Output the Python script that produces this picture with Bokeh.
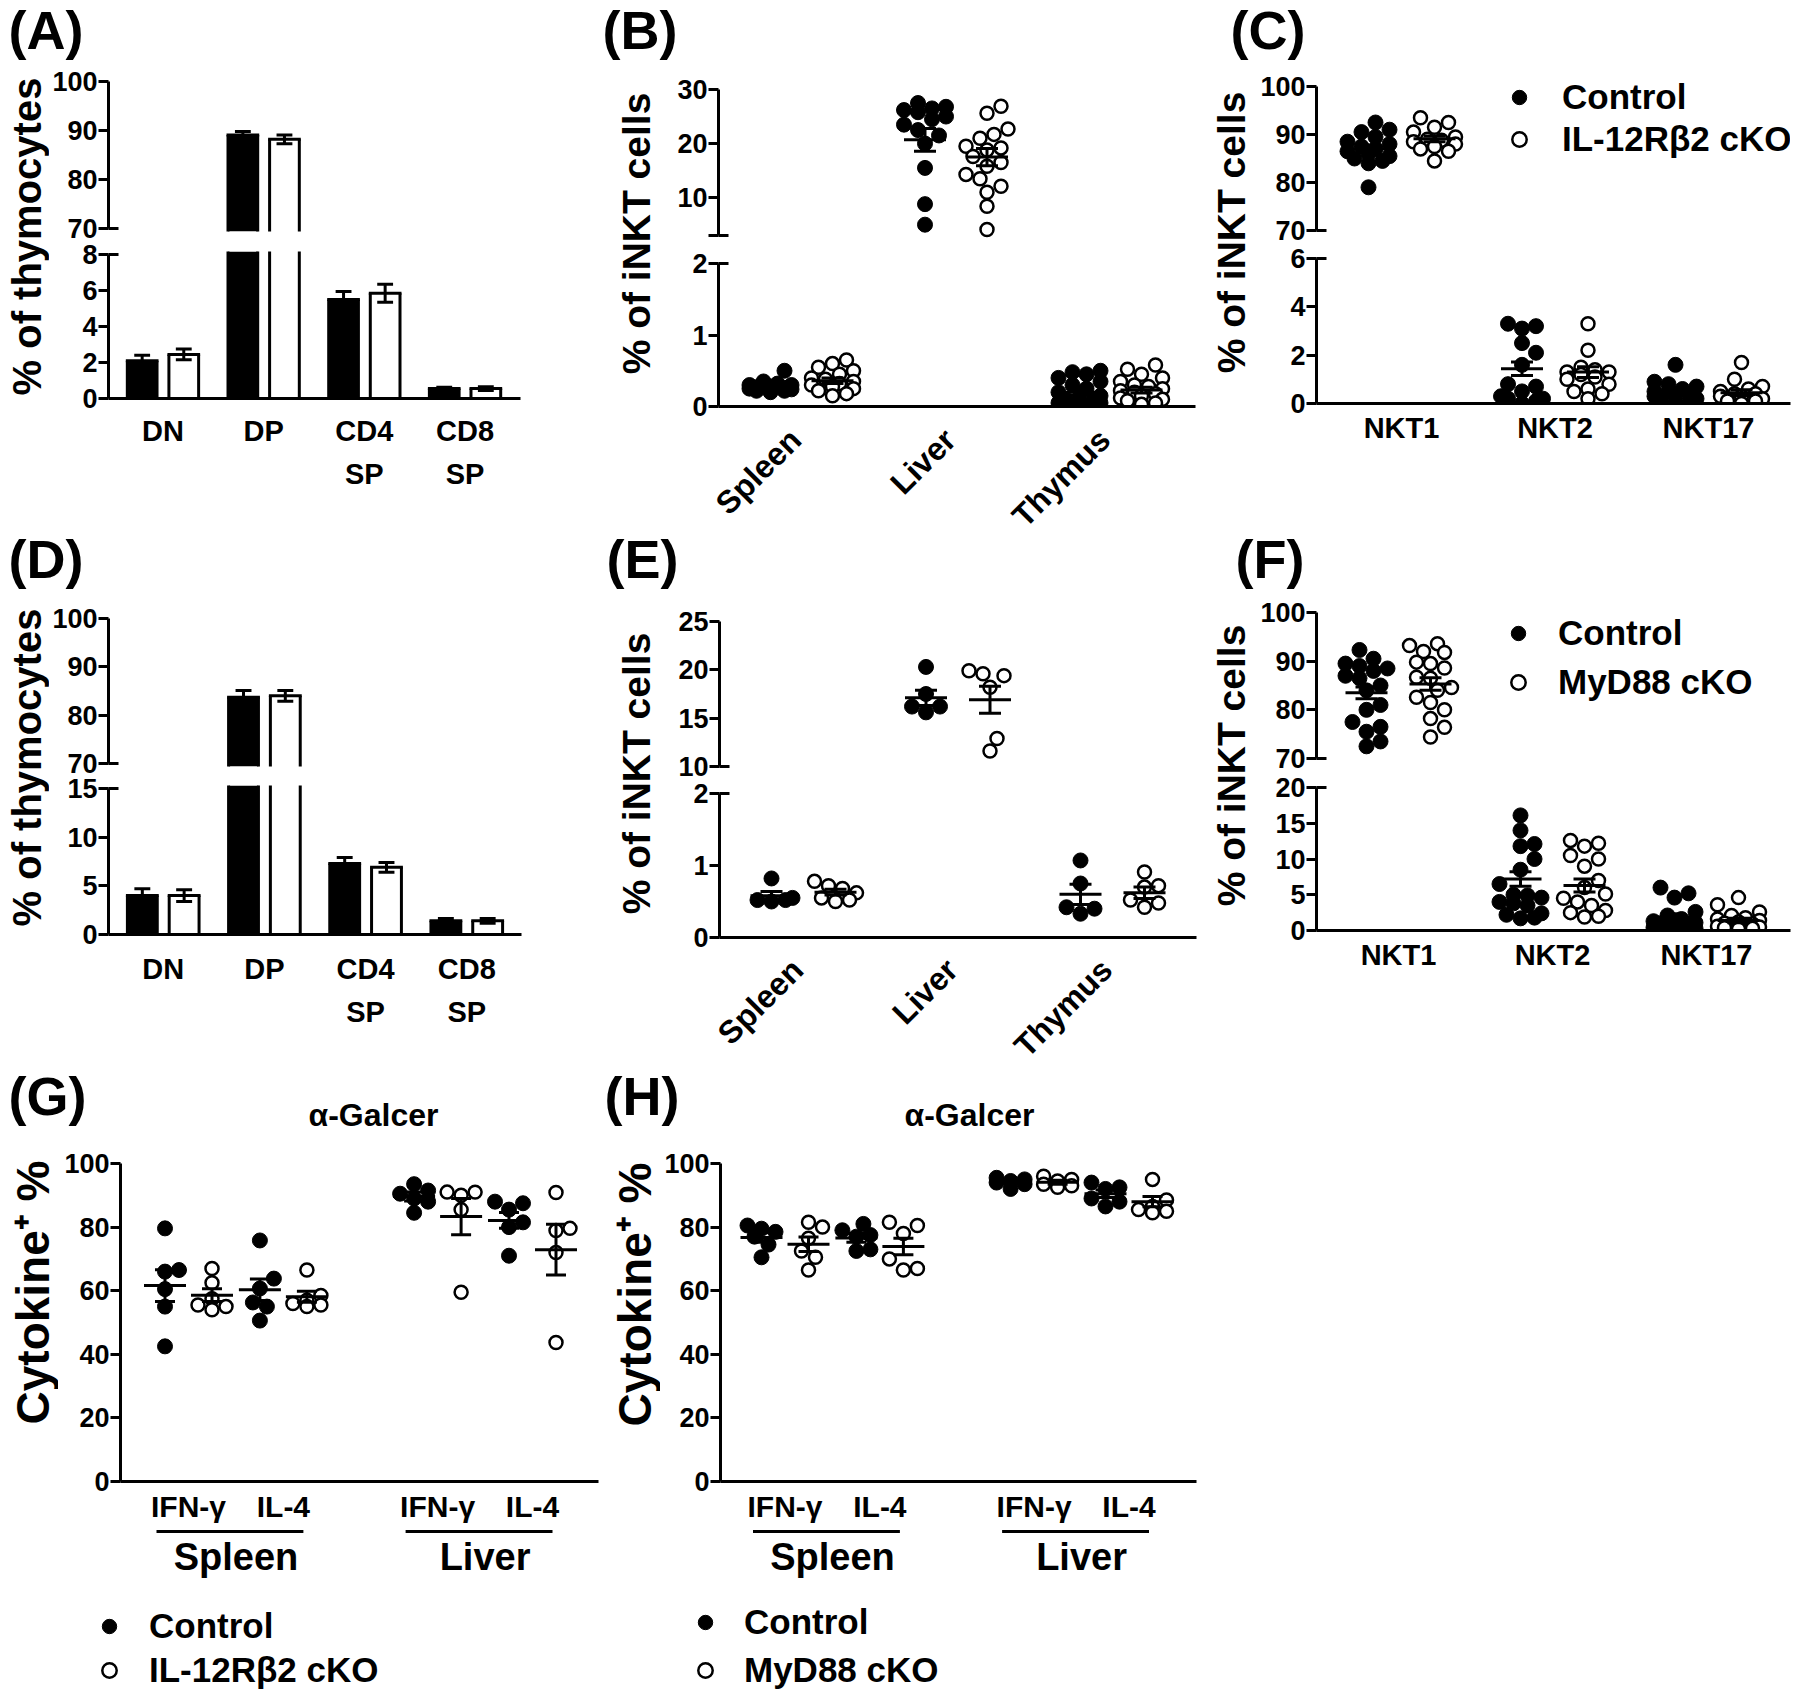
import math
from bokeh.plotting import figure
from bokeh.models import (Range1d, LinearAxis, FixedTicker, Label, Legend,
                          LegendItem)
from bokeh.layouts import row, column
from bokeh.embed import file_html
from bokeh.resources import INLINE

FONT = "Liberation Sans"

# ======================= data =======================
thymus_subsets = ["DN", "DP", "CD4\nSP", "CD8\nSP"]
A_ctrl_mean = [2.1, 89.1, 5.5, 0.55]
A_ctrl_sem = [0.3, 0.7, 0.45, 0.08]
A_ko_mean = [2.45, 88.2, 5.85, 0.55]
A_ko_sem = [0.3, 0.9, 0.5, 0.1]

D_ctrl_mean = [4.0, 83.7, 7.3, 1.4]
D_ctrl_sem = [0.7, 1.4, 0.6, 0.25]
D_ko_mean = [4.0, 84.0, 6.9, 1.4]
D_ko_sem = [0.6, 1.1, 0.5, 0.25]

organs = ["Spleen", "Liver", "Thymus"]
B_ctrl_spleen = [0.50, 0.35, 0.32, 0.30, 0.30, 0.28, 0.27, 0.26, 0.25, 0.25, 0.24, 0.22, 0.22, 0.20]
B_ko_spleen = [0.65, 0.60, 0.55, 0.50, 0.45, 0.40, 0.38, 0.35, 0.32, 0.30, 0.28, 0.25, 0.22, 0.18, 0.15]
B_ctrl_liver = [27.5, 26.8, 26.5, 26.2, 25.8, 25.0, 24.5, 23.5, 22.5, 21.5, 20.0, 15.5, 8.8, 5.0]
B_ko_liver = [26.9, 25.6, 22.7, 21.7, 21.0, 19.5, 19.2, 18.8, 17.6, 16.5, 15.8, 14.3, 13.5, 12.1, 11.0, 8.4, 4.1]
B_ctrl_thymus = [0.50, 0.48, 0.45, 0.40, 0.35, 0.30, 0.25, 0.20, 0.15, 0.12, 0.10, 0.08, 0.06, 0.05, 0.05, 0.04, 0.03, 0.02]
B_ko_thymus = [0.58, 0.52, 0.45, 0.40, 0.35, 0.30, 0.28, 0.25, 0.22, 0.20, 0.18, 0.15, 0.12, 0.10, 0.08, 0.05, 0.03]
B_ctrl_mean = [0.28, 20.7, 0.20]
B_ctrl_sem = [0.02, 2.1, 0.04]
B_ko_mean = [0.36, 17.5, 0.23]
B_ko_sem = [0.04, 1.6, 0.04]

subsets = ["NKT1", "NKT2", "NKT17"]
C_ctrl_nkt1 = [92.5, 91.0, 90.5, 89.5, 88.5, 88.0, 87.5, 87.0, 86.5, 86.0, 85.5, 85.0, 84.5, 84.0, 79.0]
C_ko_nkt1 = [93.5, 92.5, 91.5, 90.5, 89.5, 89.0, 88.8, 88.5, 88.0, 87.5, 87.0, 86.5, 84.5]
C_ctrl_nkt2 = [3.3, 3.2, 3.1, 2.5, 2.1, 1.6, 0.8, 0.7, 0.5, 0.3, 0.2, 0.2, 0.1, 0.0]
C_ko_nkt2 = [3.3, 2.2, 1.5, 1.4, 1.3, 1.3, 1.2, 1.1, 1.0, 0.8, 0.6, 0.5, 0.4, 0.2]
C_ctrl_nkt17 = [1.6, 0.9, 0.8, 0.7, 0.6, 0.5, 0.5, 0.4, 0.3, 0.3, 0.2, 0.1, 0.1, 0.0]
C_ko_nkt17 = [1.7, 1.0, 0.7, 0.6, 0.5, 0.4, 0.4, 0.3, 0.3, 0.2, 0.1, 0.1, 0.0]
C_ctrl_mean = [87.0, 1.44, 0.50]
C_ctrl_sem = [0.8, 0.28, 0.12]
C_ko_mean = [89.1, 1.30, 0.45]
C_ko_sem = [0.6, 0.22, 0.12]

E_ctrl_spleen = [0.82, 0.55, 0.52, 0.52, 0.50]
E_ko_spleen = [0.78, 0.72, 0.68, 0.62, 0.55, 0.52, 0.50]
E_ctrl_liver = [20.3, 17.5, 16.2, 16.2, 15.6]
E_ko_liver = [19.9, 19.6, 19.4, 18.2, 12.9, 11.6]
E_ctrl_thymus = [1.07, 0.75, 0.42, 0.40, 0.33]
E_ko_thymus = [0.91, 0.72, 0.70, 0.52, 0.48, 0.42]
E_ctrl_mean = [0.58, 17.1, 0.60]
E_ctrl_sem = [0.06, 0.8, 0.14]
E_ko_mean = [0.63, 16.9, 0.62]
E_ko_sem = [0.04, 1.4, 0.08]

F_ctrl_nkt1 = [92.3, 90.5, 89.5, 89.0, 88.5, 88.0, 87.0, 86.5, 85.0, 84.0, 81.0, 80.0, 77.5, 76.5, 75.5, 73.5, 72.5]
F_ko_nkt1 = [93.6, 93.2, 92.0, 91.8, 89.8, 89.5, 88.6, 86.7, 86.5, 84.6, 84.0, 82.6, 81.5, 80.0, 78.2, 76.4, 74.4]
F_ctrl_nkt2 = [16.1, 14.0, 12.1, 11.8, 10.0, 8.5, 6.5, 5.0, 4.9, 4.6, 4.0, 3.8, 3.5, 2.4, 2.2, 1.8, 1.7]
F_ko_nkt2 = [12.6, 12.2, 11.8, 10.5, 10.0, 9.0, 7.0, 6.0, 5.1, 4.5, 4.0, 3.5, 2.8, 2.5, 2.0, 1.9]
F_ctrl_nkt17 = [6.0, 5.2, 4.6, 2.6, 2.1, 1.6, 1.3, 1.1, 0.9, 0.8, 0.6, 0.5, 0.4, 0.3, 0.3, 0.2, 0.1]
F_ko_nkt17 = [4.6, 3.6, 2.6, 2.1, 1.8, 1.6, 1.4, 1.2, 1.0, 0.9, 0.8, 0.6, 0.5, 0.4, 0.3, 0.2]
F_ctrl_mean = [83.5, 7.2, 1.9]
F_ctrl_sem = [1.2, 1.0, 0.45]
F_ko_mean = [85.3, 6.3, 1.4]
F_ko_sem = [1.3, 0.9, 0.3]

cytokines = ["IFN-γ", "IL-4", "IFN-γ", "IL-4"]
tissues = ["Spleen", "Liver"]
G_ctrl = [[79.6, 66.5, 66.0, 60.5, 55.0, 42.5],
          [75.8, 63.8, 60.7, 56.3, 55.0, 50.6],
          [93.5, 91.5, 90.5, 89.0, 88.0, 84.5],
          [88.0, 87.5, 85.5, 81.5, 80.0, 71.0]]
G_ko = [[67.0, 62.5, 57.5, 55.5, 55.0, 54.0],
        [66.5, 58.5, 57.0, 56.0, 55.5, 55.0],
        [91.0, 91.0, 90.0, 85.5, 59.5],
        [90.9, 79.6, 78.9, 72.0, 43.7]]
G_ctrl_mean = [61.6, 60.3, 89.6, 82.1]
G_ctrl_sem = [5.0, 3.4, 1.4, 2.5]
G_ko_mean = [58.6, 58.1, 83.3, 72.9]
G_ko_sem = [2.0, 1.7, 5.7, 8.0]

H_ctrl = [[80.5, 79.5, 78.5, 77.0, 74.5, 70.5],
          [81.0, 79.0, 77.5, 77.0, 73.0, 72.5],
          [95.5, 95.0, 94.5, 94.0, 93.5, 92.0],
          [94.0, 92.5, 92.0, 89.0, 88.0, 86.5]]
H_ko = [[81.5, 80.0, 76.5, 72.5, 70.5, 66.5],
        [81.5, 80.5, 78.0, 70.0, 67.0, 66.5],
        [96.0, 95.0, 94.5, 93.5, 93.0, 92.5],
        [95.0, 88.5, 86.5, 85.5, 85.0, 84.5]]
H_ctrl_mean = [76.7, 76.6, 94.1, 90.5]
H_ctrl_sem = [1.5, 1.4, 0.5, 1.2]
H_ko_mean = [74.6, 73.9, 94.1, 88.0]
H_ko_sem = [2.3, 2.6, 0.6, 1.6]

# ============================ helpers ============================
PAD = 3
DIAM = 14.0
YTITLE = 39
TICK = 27


def rng_from(a, b, v1, p1, v2, p2):
    inv = (v2 - v1) / (p2 - p1)
    return Range1d(v1 + (a - p1) * inv, v1 + (b - p1) * inv)


def canvas(x0, x1, y0, y1, fl, fr, ft, fb, xr, yr):
    p = figure(width=int(x1 - x0), height=int(y1 - y0), x_range=xr, y_range=yr,
               x_axis_type=None, y_axis_type=None, output_backend="svg",
               toolbar_location=None,
               min_border_left=int(fl - x0), min_border_right=int(x1 - fr),
               min_border_top=int(ft - y0), min_border_bottom=int(y1 - fb))
    p.outline_line_color = None
    p.border_fill_color = "white"
    p.background_fill_color = "white"
    return p


def blank(x0, x1, y0, y1, xr=None, yr=None):
    xr = xr if xr is not None else Range1d(0, 1)
    yr = yr if yr is not None else Range1d(0, 1)
    return canvas(x0, x1, y0, y1, x0, x1, y0, y1, xr, yr)


def txt(p, x, y, text, size, align="left", angle=0.0, units="screen"):
    p.add_layout(Label(x=x, y=y, x_units=units, y_units=units, text=text,
                       text_font=FONT, text_font_style="bold",
                       text_font_size=f"{size}px", text_align=align,
                       text_baseline="middle", angle=angle, text_color="black"))


def style(ax, size):
    ax.axis_line_width = 3
    ax.axis_line_color = "black"
    ax.major_tick_line_width = 3
    ax.major_tick_line_color = "black"
    ax.minor_tick_line_color = None
    ax.major_label_text_font = FONT
    ax.major_label_text_font_style = "bold"
    ax.major_label_text_font_size = f"{size}px"
    ax.major_label_text_color = "black"


def yaxis(p, ticks, bounds, hide=()):
    ax = LinearAxis(ticker=FixedTicker(ticks=list(ticks)), bounds=bounds)
    style(ax, TICK)
    ax.major_label_overrides = {t: "" for t in hide}
    ax.major_tick_out = 10
    ax.major_tick_in = 0
    ax.major_label_standoff = 1
    p.add_layout(ax, "left")


def xaxis(p, labels, size, standoff, ticks=None, show=True):
    if ticks is None:
        ticks = list(range(len(labels)))
    ax = LinearAxis(ticker=FixedTicker(ticks=list(ticks)))
    style(ax, size if show else 0)
    ax.major_label_overrides = dict(zip(ticks, labels))
    ax.major_tick_line_color = None
    ax.major_tick_out = 0
    ax.major_tick_in = 0
    ax.major_label_standoff = standoff
    ax.major_label_text_line_height = 1.35
    if not show:
        ax.major_label_text_alpha = 0.0
    p.add_layout(ax, "below")


def swarm(ypx, maxw):
    n = len(ypx)
    order = sorted(range(n), key=lambda i: -ypx[i])
    step = DIAM / 2.0
    cands = [0.0]
    k = 1
    while k * step <= maxw + 1e-9:
        cands += [k * step, -k * step]
        k += 1
    placed, out = [], [0.0] * n
    for i in order:
        y = ypx[i]
        best, bpen = 0.0, None
        for c in cands:
            pen = 0.0
            for (qx, qy) in placed:
                d = math.hypot(c - qx, y - qy)
                if d < DIAM:
                    pen += DIAM - d
            if pen == 0.0:
                best = c
                break
            if bpen is None or pen < bpen:
                best, bpen = c, pen
        placed.append((best, y))
        out[i] = best
    return out


def errbars(p, xs, means, sems, mhw, chw, meanline):
    hi = [m + s for m, s in zip(means, sems)]
    lo = [m - s for m, s in zip(means, sems)]
    kw = dict(line_color="black", line_width=3)
    if meanline:
        p.segment([x - mhw for x in xs], means, [x + mhw for x in xs], means, **kw)
    p.segment(xs, lo, xs, hi, **kw)
    p.segment([x - chw for x in xs], hi, [x + chw for x in xs], hi, **kw)
    p.segment([x - chw for x in xs], lo, [x + chw for x in xs], lo, **kw)


def broken(x0, x1, fl, fr, y0, ymid, y1, xr, up, lo, up_ticks, lo_ticks, up_hide=()):
    vlo, plo, vhi, phi = up
    ft, fb = phi - PAD, plo + PAD
    pu = canvas(x0, x1, y0, ymid, fl, fr, ft, fb, xr, rng_from(fb, ft, vlo, plo, vhi, phi))
    yaxis(pu, up_ticks, (vlo, vhi), up_hide)
    pu.scatter([xr.start], [vlo], marker="dash", size=20, line_width=3, line_color="black")
    v0, p0, vtop, ptop = lo
    ft2, fb2 = ptop - PAD, p0
    pl = canvas(x0, x1, ymid, y1, fl, fr, ft2, fb2, xr, rng_from(fb2, ft2, v0, p0, vtop, ptop))
    yaxis(pl, lo_ticks, (v0, vtop))
    pl.scatter([xr.start], [vtop], marker="dash", size=20, line_width=3, line_color="black")

    def ypx(v):
        if v >= vlo:
            return plo + (v - vlo) * (phi - plo) / (vhi - vlo)
        return p0 + (v - v0) * (ptop - p0) / (vtop - v0)
    return pu, pl, ypx


def bar_panel(figs, n, kx, cm, cs, km, ks):
    hw = 15.0 / kx
    ext = 1.5 / kx
    kw = dict(line_color="black", line_width=3)
    for p in figs:
        floor = p.y_range.start
        for means, sems, sgn, fill in ((cm, cs, -1, "black"), (km, ks, 1, "white")):
            xs = [i + sgn * 21.0 / kx for i in range(n)]
            vis = [i for i in range(n) if means[i] > floor]
            if not vis:
                continue
            vx = [xs[i] for i in vis]
            vm = [means[i] for i in vis]
            vs = [sems[i] for i in vis]
            zeros = [0] * len(vis)
            p.vbar(x=vx, width=2 * hw, top=vm, bottom=0, fill_color=fill, line_color=None)
            p.segment([x - hw for x in vx], zeros, [x - hw for x in vx], vm, **kw)
            p.segment([x + hw for x in vx], zeros, [x + hw for x in vx], vm, **kw)
            p.segment([x - hw - ext for x in vx], vm, [x + hw + ext for x in vx], vm, **kw)
            errbars(p, vx, vm, vs, 0, 8.0 / kx, False)


def points(n, kx, ypx, ctrl, ko, off_px, maxw, pos):
    cx_, cy_, kx_, ky_ = [], [], [], []
    for i in range(n):
        for vals, sgn, X, Y in ((ctrl[i], -1, cx_, cy_), (ko[i], 1, kx_, ky_)):
            offs = swarm([ypx(v) for v in vals], maxw)
            for v, o in zip(vals, offs):
                X.append(pos[i] + (sgn * off_px + o) / kx)
                Y.append(v)
    return cx_, cy_, kx_, ky_


def draw_points(p, pts):
    cx_, cy_, kx_, ky_ = pts
    rc = p.scatter(cx_, cy_, marker="circle", size=15, fill_color="black",
                   line_color="black", line_width=1)
    rk = p.scatter(kx_, ky_, marker="circle", size=13, fill_color="white",
                   line_color="black", line_width=2.5)
    return rc, rk


def dot_panel(figs, n, kx, ypx, ctrl, ko, cm, cs, km, ks, off_px, maxw,
              mean_hw=21.0, cap_hw=11.0, pos=None):
    if pos is None:
        pos = list(range(n))
    pts = points(n, kx, ypx, ctrl, ko, off_px, maxw, pos)
    out = []
    for p in figs:
        rc, rk = draw_points(p, pts)
        for means, sems, sgn in ((cm, cs, -1), (km, ks, 1)):
            xs = [pos[i] + sgn * off_px / kx for i in range(n)]
            errbars(p, xs, means, sems, mean_hw / kx, cap_hw / kx, True)
        out.append((rc, rk))
    return out, pts


def add_legend(p, rc, rk, label2, vx, vy, spacing, standoff):
    lg = Legend(items=[LegendItem(label="Control", renderers=[rc]),
                       LegendItem(label=label2, renderers=[rk])],
                location=(vx, vy), orientation="vertical", spacing=spacing,
                padding=0, margin=0, glyph_width=36, glyph_height=36,
                label_height=40, label_standoff=standoff,
                label_text_font=FONT, label_text_font_style="bold",
                label_text_font_size="35px", label_text_color="black",
                border_line_color=None, background_fill_alpha=0.0)
    p.add_layout(lg)


def strip(x0, x1, y0, y1, text, cx, cy, size):
    p = blank(x0, x1, y0, y1)
    txt(p, cx - x0, y1 - cy, text, size, align="center", angle=math.pi / 2)
    return p


def header(y0, y1, items):
    p = blank(0, 1800, y0, y1)
    for text, x, cy, size, align in items:
        txt(p, x, y1 - cy, text, size, align=align)
    return p


def rot_footer(x0, x1, y0, y1, c_first, c_last, n, labels, anchor_y, size):
    xr = rng_from(x0, x1, 0, c_first, n - 1, c_last)
    p = blank(x0, x1, y0, y1, xr, Range1d(y1, y0))
    kx = (c_last - c_first) / float(n - 1)
    for i, lab in enumerate(labels):
        txt(p, i - 6.0 / kx, anchor_y, lab, size, align="right", angle=math.pi / 4, units="data")
    return p


# vertical bands (reference pixels)
H1, B1 = (0, 64), (64, 528)
H2, B2 = (528, 594), (594, 1064)
H3, B3 = (1064, 1140), (1140, 1694)

# ============================ row 1 ============================
kA = (464 - 159) / 3.0
xrA = rng_from(104, 520, 0, 159, 3, 464)
A_up, A_lo, _ = broken(49, 600, 104, 520, B1[0], 241, B1[1], xrA,
                       (70, 228, 100, 81), (0, 398, 8, 254), [70, 80, 90, 100], [0, 2, 4, 6, 8])
bar_panel([A_up, A_lo], 4, kA, A_ctrl_mean, A_ctrl_sem, A_ko_mean, A_ko_sem)
xaxis(A_lo, thymus_subsets, 29, 16)
A_strip = strip(0, 49, B1[0], B1[1], "% of thymocytes", 26.5, 236, 40)

kB = (1110 - 801) / 2.0
xrB = rng_from(718, 1195, 0, 801, 2, 1110)
B_up, B_lo, ypxB = broken(660, 1205, 718, 1195, B1[0], 249, 422, xrB,
                          (3, 235, 30, 89), (0, 406, 2, 263), [3, 10, 20, 30], [0, 1, 2], up_hide=(3,))
dot_panel([B_up, B_lo], 3, kB, ypxB,
          [B_ctrl_spleen, B_ctrl_liver, B_ctrl_thymus], [B_ko_spleen, B_ko_liver, B_ko_thymus],
          B_ctrl_mean, B_ctrl_sem, B_ko_mean, B_ko_sem, 31, 26)
xaxis(B_lo, organs, 32, 0, show=False)
B_foot = rot_footer(660, 1205, 422, B1[1], 801, 1110, 3, organs, 434, 32)
B_strip = strip(600, 660, B1[0], B1[1], "% of iNKT cells", 636, 233, YTITLE)

kC = (1708 - 1401) / 2.0
xrC = rng_from(1316, 1790, 0, 1401, 2, 1708)
C_up, C_lo, ypxC = broken(1254, 1800, 1316, 1790, B1[0], 244, B1[1], xrC,
                          (70, 230, 100, 86), (0, 403, 6, 258), [70, 80, 90, 100], [0, 2, 4, 6])
rC, _ = dot_panel([C_up, C_lo], 3, kC, ypxC,
                  [C_ctrl_nkt1, C_ctrl_nkt2, C_ctrl_nkt17], [C_ko_nkt1, C_ko_nkt2, C_ko_nkt17],
                  C_ctrl_mean, C_ctrl_sem, C_ko_mean, C_ko_sem, 33, 26)
xaxis(C_lo, subsets, 29, 8)
add_legend(C_up, rC[0][0], rC[0][1], "IL-12Rβ2 cKO", 185, 74, 2, 25)
C_strip = strip(1205, 1254, B1[0], B1[1], "% of iNKT cells", 1231, 232, YTITLE)

head1 = header(H1[0], H1[1], [("(A)", 8, 29, 54, "left"), ("(B)", 602, 29, 54, "left"),
                              ("(C)", 1230, 29, 54, "left")])
row1 = column(head1, row(A_strip, column(A_up, A_lo), B_strip, column(B_up, B_lo, row(B_foot)),
                         C_strip, column(C_up, C_lo)))

# ============================ row 2 ============================
kD = (466 - 161) / 3.0
xrD = rng_from(106, 521, 0, 161, 3, 466)
D_up, D_lo, _ = broken(49, 600, 106, 521, B2[0], 775, B2[1], xrD,
                       (70, 763, 100, 618), (0, 934, 15, 788), [70, 80, 90, 100], [0, 5, 10, 15])
bar_panel([D_up, D_lo], 4, kD, D_ctrl_mean, D_ctrl_sem, D_ko_mean, D_ko_sem)
xaxis(D_lo, thymus_subsets, 29, 18)
D_strip = strip(0, 49, B2[0], B2[1], "% of thymocytes", 26.5, 767, 40)

kE = (1112 - 803) / 2.0
xrE = rng_from(719, 1196, 0, 803, 2, 1112)
E_up, E_lo, ypxE = broken(660, 1205, 719, 1196, B2[0], 779, 953, xrE,
                          (10, 766, 25, 621), (0, 937, 2, 793), [10, 15, 20, 25], [0, 1, 2])
dot_panel([E_up, E_lo], 3, kE, ypxE,
          [E_ctrl_spleen, E_ctrl_liver, E_ctrl_thymus], [E_ko_spleen, E_ko_liver, E_ko_thymus],
          E_ctrl_mean, E_ctrl_sem, E_ko_mean, E_ko_sem, 32, 26)
xaxis(E_lo, organs, 32, 0, show=False)
E_foot = rot_footer(660, 1205, 953, B2[1], 803, 1112, 3, organs, 964, 32)
E_strip = strip(600, 660, B2[0], B2[1], "% of iNKT cells", 636, 773, YTITLE)

kF = (1706 - 1398) / 2.0
xrF = rng_from(1316, 1790, 0, 1398, 2, 1706)
F_up, F_lo, ypxF = broken(1254, 1800, 1316, 1790, B2[0], 772, B2[1], xrF,
                          (70, 758, 100, 612), (0, 930, 20, 787), [70, 80, 90, 100], [0, 5, 10, 15, 20])
rF, _ = dot_panel([F_up, F_lo], 3, kF, ypxF,
                  [F_ctrl_nkt1, F_ctrl_nkt2, F_ctrl_nkt17], [F_ko_nkt1, F_ko_nkt2, F_ko_nkt17],
                  F_ctrl_mean, F_ctrl_sem, F_ko_mean, F_ko_sem, 32, 26)
xaxis(F_lo, subsets, 29, 8)
add_legend(F_up, rF[0][0], rF[0][1], "MyD88 cKO", 184, 59, 9, 22)
F_strip = strip(1205, 1254, B2[0], B2[1], "% of iNKT cells", 1231, 765, YTITLE)

head2 = header(H2[0], H2[1], [("(D)", 8, 558, 54, "left"), ("(E)", 606, 558, 54, "left"),
                              ("(F)", 1235, 558, 54, "left")])
row2 = column(head2, row(D_strip, column(D_up, D_lo), E_strip, column(E_up, E_lo, row(E_foot)),
                         F_strip, column(F_up, F_lo)))


# ============================ row 3 ============================
def cyto(x0, x1, fl, fr, p_first, p_last, ctrl, ko, cm, cs, km, ks, ko_label,
         leg_left, leg_spacing, leg_standoff):
    pos = [t * 21 + c * 8 for t in range(2) for c in range(2)]
    kx = (p_last - p_first) / float(pos[-1] - pos[0])
    xr = rng_from(fl, fr, pos[0], p_first, pos[-1], p_last)
    ft, fb = 1161, 1481
    yr = rng_from(fb, ft, 0, 1481, 100, 1163)
    p = canvas(x0, x1, B3[0], 1525, fl, fr, ft, fb, xr, yr)
    yaxis(p, [0, 20, 40, 60, 80, 100], (0, 100))
    ky = (1481 - 1163) / 100.0

    def ypx(v):
        return 1481 - v * ky
    _, pts = dot_panel([p], 4, kx, ypx, ctrl, ko, cm, cs, km, ks, 23.5, 20,
                       mean_hw=21.0, cap_hw=10.0, pos=pos)
    xaxis(p, cytokines, 30, 8, ticks=pos)

    # footer: tissue group lines, tissue names and the legend
    fx = rng_from(x0, x1, pos[0], p_first, pos[-1], p_last)
    foot = blank(x0, x1, 1525, B3[1], fx, Range1d(B3[1], 1525))
    lows = [pos[2 * t] - 32 / kx for t in range(2)]
    ups = [pos[2 * t + 1] + 20 / kx for t in range(2)]
    foot.segment(lows, [1531, 1531], ups, [1531, 1531], line_color="black", line_width=3)
    for t, name in enumerate(tissues):
        txt(foot, (pos[2 * t] + pos[2 * t + 1]) / 2.0, 1556, name, 38, align="center", units="data")
    rc, rk = draw_points(foot, pts)   # values lie outside this strip's range: only the keys show
    add_legend(foot, rc, rk, ko_label, leg_left - x0, B3[1] - 1690, leg_spacing, leg_standoff)
    return p, foot


G_main, G_foot = cyto(58, 600, 120, 598, 188, 532, G_ctrl, G_ko, G_ctrl_mean, G_ctrl_sem,
                      G_ko_mean, G_ko_sem, "IL-12Rβ2 cKO", 91, 4, 22)
H_main, H_foot = cyto(660, 1205, 720, 1196, 784.5, 1128.5, H_ctrl, H_ko, H_ctrl_mean, H_ctrl_sem,
                      H_ko_mean, H_ko_sem, "MyD88 cKO", 687, 8, 21)
G_strip = strip(0, 58, B3[0], B3[1], "Cytokine⁺ %", 32, 1292, 46)
H_strip = strip(600, 660, B3[0], B3[1], "Cytokine⁺ %", 634, 1294, 46)

head3 = header(H3[0], H3[1], [("(G)", 8, 1095, 54, "left"), ("α-Galcer", 373, 1114, 32, "center"),
                              ("(H)", 604, 1095, 54, "left"), ("α-Galcer", 969, 1114, 32, "center")])
row3 = column(head3, row(G_strip, column(G_main, row(G_foot)), H_strip, column(H_main, row(H_foot))))

layout = column(row1, row2, row3)

with open("out.html", "w", encoding="utf-8") as f:
    f.write(file_html(layout, INLINE, title="iNKT figure"))
